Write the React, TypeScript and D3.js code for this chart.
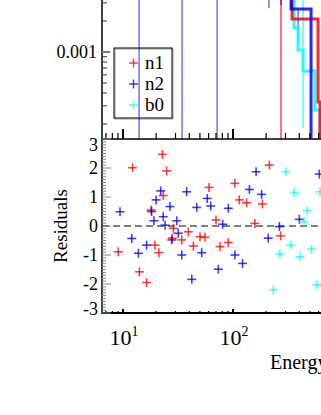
import React, { useRef, useEffect } from 'react';
import * as d3 from 'd3';

const seriesNames = ['n1', 'n2', 'b0'];
const seriesColors = ['#ff0000', '#0000ff', '#00ffff'];

// folded model histograms: bin edges (keV) and counts
const n1Edges = [200, 344, 593, 618, 900];
const n1Model = [0.004, 0.00209, 0.000327, 0.00005];
const n2Edges = [200, 337, 512, 900];
const n2Model = [0.004, 0.00261, 0.00005];
const b0Edges = [200, 359, 390, 433, 556, 618, 900];
const b0Model = [0.004, 0.00171, 0.001045, 0.000654, 0.000273, 0.00005];

// data error bars in the spectrum panel
const n1BarE = [273];
const n1BarLo = [0.00001];
const n1BarHi = [0.1];
const n2BarE = [14.0, 34.4, 71.6, 212, 273, 390];
const n2BarLo = [0.00001, 0.00001, 0.00001, 0.00267, 0.00286, 0.00122];
const n2BarHi = [0.1, 0.1, 0.1, 0.1, 0.1, 0.00256];
const b0BarE = [433];
const b0BarLo = [0.000183];
const b0BarHi = [0.1];

// residuals
const n1ResE = [9.06, 12.2, 14.1, 16.4, 19.5, 21.2, 18.0, 22.8, 24.9, 23.2, 28.7, 28.1, 34.2, 39.3, 43.6, 50.1, 55.6, 60.5, 70.0, 76.2, 90.6, 104, 114, 133, 158, 185, 214, 271];
const n1Res = [-0.89, 2.01, -1.58, -1.95, -0.66, -0.92, 0.55, 2.47, 1.9, 1.05, -0.08, -0.42, -0.48, -0.2, -0.69, -0.37, -0.39, 1.33, 0.21, -0.71, -0.57, 1.47, 0.9, 0.8, 0.09, 0.76, 2.1, -0.34];
const n2ResE = [9.39, 12.0, 13.8, 16.4, 18.2, 19.1, 20.0, 22.0, 23.2, 24.1, 26.7, 27.7, 30.8, 31.8, 34.2, 37.9, 42.2, 46.8, 51.9, 58.3, 62.7, 73.5, 80.5, 90.6, 104, 122, 141, 162, 182, 209, 264, 401, 609];
const n2Res = [0.49, -0.43, -0.94, -0.66, 0.5, 0.18, 0.9, 1.21, 0.32, 0.03, 0.67, -0.48, 0.18, -0.25, -1.0, 1.18, -1.84, 0.64, -0.92, 0.95, 0.69, -1.49, 0.06, 0.61, -1.0, -1.29, 1.26, 1.87, 1.09, -0.42, -0.02, 0.23, 1.79];
const b0ResE = [232, 267, 303, 335, 361, 406, 442, 473, 519, 576, 618];
const b0Res = [-2.2, -0.97, 1.87, -0.66, 1.16, -1.06, 0.15, 0.53, -0.8, -2.03, 1.18];

const yTopLabels = [0.001];
const resTicks = [-3, -2, -1, 0, 1, 2, 3];
const xLabelTicks = [10, 100];
const xTitle = 'Energy (keV)';
const yResTitle = 'Residuals';

const FONT = '"Liberation Serif", "Times New Roman", serif';

const App = () => {
  const svgRef = useRef(null);

  useEffect(() => {
    const svg = d3.select(svgRef.current);
    svg.selectAll('*').remove();

    const left = 102;
    const topBottom = 139;
    const resBottom = 313;

    const x = d3.scaleLog().domain([6.44, 1000]).range([left, left + 110 * Math.log10(1000 / 6.44)]);
    const y = d3.scaleLog().domain([1e-4, 1e-2]).range([155, -51]);
    const yr = d3.scaleLinear().domain([-3, 3]).range([resBottom, topBottom]);

    const defs = svg.append('defs');
    defs.append('clipPath').attr('id', 'clipTop')
      .append('rect').attr('x', left).attr('y', 0).attr('width', 400).attr('height', topBottom);
    defs.append('clipPath').attr('id', 'clipRes')
      .append('rect').attr('x', left).attr('y', topBottom).attr('width', 400).attr('height', resBottom - topBottom);

    // legend
    const lg = svg.append('g');
    lg.append('rect').attr('x', 115).attr('y', 49).attr('width', 58).attr('height', 70)
      .attr('fill', 'none').attr('stroke', '#999').attr('stroke-width', 1);
    lg.append('rect').attr('x', 114).attr('y', 48).attr('width', 58).attr('height', 70)
      .attr('fill', 'none').attr('stroke', 'black').attr('stroke-width', 1);
    seriesNames.forEach((name, i) => {
      const cy = 63 + i * 21;
      lg.append('line').attr('x1', 129).attr('x2', 138).attr('y1', cy).attr('y2', cy)
        .attr('stroke', seriesColors[i]).attr('stroke-width', 1.5).attr('opacity', 0.75);
      lg.append('line').attr('x1', 133.5).attr('x2', 133.5).attr('y1', cy - 4.5).attr('y2', cy + 4.5)
        .attr('stroke', seriesColors[i]).attr('stroke-width', 1.5).attr('opacity', 0.75);
      lg.append('text').attr('x', 145).attr('y', cy + 6).attr('font-family', FONT)
        .attr('font-size', 19).attr('fill', 'black').text(name);
    });

    // spectrum panel
    const top = svg.append('g').attr('clip-path', 'url(#clipTop)');
    const bars = [
      [n1BarE, n1BarLo, n1BarHi],
      [n2BarE, n2BarLo, n2BarHi],
      [b0BarE, b0BarLo, b0BarHi],
    ];
    bars.forEach(([es, lo, hi], si) => {
      es.forEach((e, i) => {
        top.append('line')
          .attr('x1', x(e)).attr('x2', x(e))
          .attr('y1', y(lo[i])).attr('y2', y(hi[i]))
          .attr('stroke', seriesColors[si]).attr('stroke-width', 1.2)
          .attr('opacity', si === 1 ? 0.7 : 0.9);
      });
    });

    const models = [
      [n1Edges, n1Model],
      [n2Edges, n2Model],
      [b0Edges, b0Model],
    ];
    const stepLine = d3.line().curve(d3.curveStepAfter).x(d => x(d[0])).y(d => y(d[1]));
    [2, 0, 1].forEach(si => {
      const [edges, vals] = models[si];
      const pts = edges.map((e, i) => [e, vals[Math.min(i, vals.length - 1)]]);
      top.append('path').attr('d', stepLine(pts)).attr('fill', 'none')
        .attr('stroke', seriesColors[si]).attr('stroke-width', 3).attr('opacity', 0.85);
    });

    // residual panel
    const res = svg.append('g').attr('clip-path', 'url(#clipRes)');
    res.append('line').attr('x1', left).attr('x2', 330).attr('y1', yr(0)).attr('y2', yr(0))
      .attr('stroke', 'black').attr('stroke-width', 1).attr('stroke-dasharray', '7,4');
    const resSets = [[n1ResE, n1Res], [n2ResE, n2Res], [b0ResE, b0Res]];
    resSets.forEach(([es, rs], si) => {
      es.forEach((e, i) => {
        const cx = x(e), cy = yr(rs[i]);
        res.append('line').attr('x1', cx - 4.5).attr('x2', cx + 4.5).attr('y1', cy).attr('y2', cy)
          .attr('stroke', seriesColors[si]).attr('stroke-width', 1.6).attr('opacity', 0.75);
        res.append('line').attr('x1', cx).attr('x2', cx).attr('y1', cy - 4.5).attr('y2', cy + 4.5)
          .attr('stroke', seriesColors[si]).attr('stroke-width', 1.6).attr('opacity', 0.75);
      });
    });

    // axes
    const ax = svg.append('g');
    ax.append('line').attr('x1', left).attr('x2', left).attr('y1', 0).attr('y2', resBottom + 1)
      .attr('stroke', 'black').attr('stroke-width', 1.5);
    ax.append('line').attr('x1', left).attr('x2', 330).attr('y1', topBottom).attr('y2', topBottom)
      .attr('stroke', 'black').attr('stroke-width', 1.5);
    ax.append('line').attr('x1', left).attr('x2', 330).attr('y1', resBottom).attr('y2', resBottom)
      .attr('stroke', 'black').attr('stroke-width', 2);

    const isDecade = v => Math.abs(Math.log10(v) - Math.round(Math.log10(v))) < 1e-6;

    x.ticks().forEach(t => {
      const px = x(t);
      if (px > 330) return;
      const major = isDecade(t);
      ax.append('line').attr('x1', px).attr('x2', px)
        .attr('y1', topBottom).attr('y2', topBottom - (major ? 10 : 6))
        .attr('stroke', 'black').attr('stroke-width', major ? 2 : 1.2);
      ax.append('line').attr('x1', px).attr('x2', px)
        .attr('y1', resBottom).attr('y2', resBottom - (major ? 4 : 2))
        .attr('stroke', 'black').attr('stroke-width', major ? 2 : 1.2);
    });

    y.ticks().forEach(t => {
      const py = y(t);
      if (py < 0 || py > topBottom) return;
      const major = isDecade(t);
      ax.append('line').attr('x1', left).attr('x2', left + (major ? 8 : 5))
        .attr('y1', py).attr('y2', py)
        .attr('stroke', major ? '#777' : '#333').attr('stroke-width', major ? 2 : 1);
    });
    yTopLabels.forEach(t => {
      ax.append('text').attr('x', 97).attr('y', y(t)).attr('dy', '0.35em')
        .attr('text-anchor', 'end').attr('font-family', FONT).attr('font-size', 18)
        .text(String(t));
    });

    d3.range(-30, 31).forEach(k => {
      const v = k / 10;
      const major = k % 10 === 0;
      ax.append('line').attr('x1', left).attr('x2', left + (major ? 9 : 4))
        .attr('y1', yr(v)).attr('y2', yr(v))
        .attr('stroke', '#888').attr('stroke-width', 1);
    });
    resTicks.forEach(t => {
      const py = Math.min(Math.max(yr(t), topBottom + 6), resBottom - 4);
      ax.append('text').attr('x', 98).attr('y', py).attr('dy', '0.35em')
        .attr('text-anchor', 'end').attr('font-family', FONT).attr('font-size', 18)
        .text(String(t));
    });

    xLabelTicks.forEach(t => {
      const tx = ax.append('text').attr('x', x(t) + 1).attr('y', 345)
        .attr('text-anchor', 'middle').attr('font-family', FONT).attr('font-size', 22);
      tx.append('tspan').text('10');
      tx.append('tspan').attr('dy', -9).attr('font-size', 14).text(String(Math.round(Math.log10(t))));
    });

    svg.append('text').attr('x', 270).attr('y', 369).attr('font-family', FONT)
      .attr('font-size', 20).text(xTitle);
    svg.append('text').attr('transform', 'translate(67,226) rotate(-90)')
      .attr('text-anchor', 'middle').attr('font-family', FONT).attr('font-size', 19)
      .text(yResTitle);
  }, []);

  return (
    <svg ref={svgRef} width={321} height={415}
      style={{ position: 'absolute', left: 0, top: 0, background: 'white' }} />
  );
};

export default App;
